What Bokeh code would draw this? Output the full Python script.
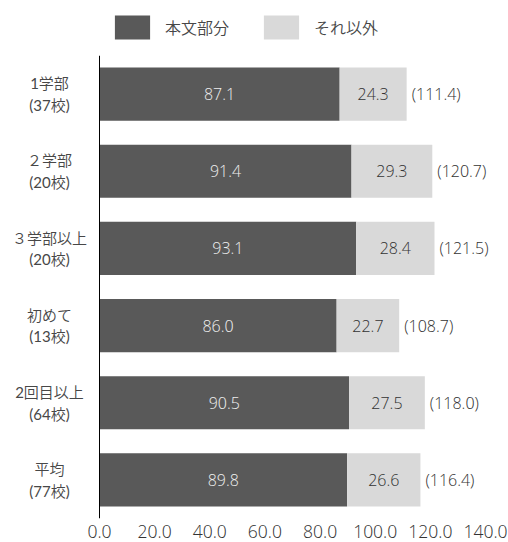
from bokeh.plotting import figure
from bokeh.layouts import column
from bokeh.models import (FactorRange, FixedTicker, Legend, LegendItem,
                          ColumnDataSource, CustomJSTickFormatter, Range1d, Span)
from bokeh.core.properties import value
from bokeh.embed import file_html
from bokeh.resources import INLINE

# Pages per school, split into main text and the rest
categories = ["1学部\n(37校)", "２学部\n(20校)", "３学部以上\n(20校)",
              "初めて\n(13校)", "2回目以上\n(64校)", "平均\n(77校)"]
main_text = [87.1, 91.4, 93.1, 86.0, 90.5, 89.8]
other = [24.3, 29.3, 28.4, 22.7, 27.5, 26.6]
totals = [111.4, 120.7, 121.5, 108.7, 118.0, 116.4]
x_ticks = [0, 20, 40, 60, 80, 100, 120, 140]
series_names = ["本文部分", "それ以外"]

NUM_FONT = "'Open Sans Light', 'Lato Light', Lato, 'Noto Sans CJK JP', sans-serif"
CAT_FONT = ("Lato, 'Noto Sans CJK JP DemiLight', 'Noto Sans CJK JP Light', "
            "'Noto Sans CJK JP', sans-serif")
DARK = "#595959"
LIGHT = "#d9d9d9"
TEXT = "#333333"
CAT_TEXT = "#474747"

W = 508
AXIS_X = 99          # pixel column of the value axis origin
PX_PER_UNIT = 386 / 140

src = ColumnDataSource(dict(
    cat=categories,
    zero=[0] * len(categories),
    main=main_text,
    other=other,
    total=totals,
    main_mid=[m / 2 for m in main_text],
    other_mid=[m + o / 2 for m, o in zip(main_text, other)],
    main_lbl=[f"{m:.1f}" for m in main_text],
    other_lbl=[f"{o:.1f}" for o in other],
    total_lbl=[f"({t:.1f})" for t in totals],
))

# ---- main bar chart ----
# the frame spans the full width so that the category labels can be drawn
# as glyphs left of the origin
p = figure(width=W, height=487, output_backend="svg", toolbar_location=None,
           y_range=FactorRange(factors=list(reversed(categories))),
           x_range=Range1d(-AXIS_X / PX_PER_UNIT, (W - AXIS_X) / PX_PER_UNIT),
           min_border_left=0, min_border_right=0, min_border_bottom=24,
           min_border_top=0)
p.y_range.range_padding = 0
p.outline_line_color = None
p.xgrid.visible = False
p.ygrid.visible = False
p.yaxis.visible = False

p.hbar(y="cat", left=0, right="main", height=0.69, source=src,
       fill_color=DARK, line_color=None)
p.hbar(y="cat", left="main", right="total", height=0.69, source=src,
       fill_color=LIGHT, line_color=None)

# vertical axis line at the origin
p.add_layout(Span(location=0, dimension="height", line_color="black",
                  line_width=1))

# category labels, centred two-line blocks left of the axis
p.text(x="zero", y="cat", text="cat", source=src, x_offset=-50,
       text_align="center", text_baseline="middle", text_color=CAT_TEXT,
       text_font=value(CAT_FONT), text_font_size="15px")

p.text(x="main_mid", y="cat", text="main_lbl", source=src,
       text_align="center", text_baseline="middle", text_color="#eeeeee",
       text_font=value(NUM_FONT), text_font_size="16px")
p.text(x="other_mid", y="cat", text="other_lbl", source=src,
       text_align="center", text_baseline="middle", text_color=TEXT,
       text_font=value(NUM_FONT), text_font_size="16px")
p.text(x="total", y="cat", text="total_lbl", source=src, x_offset=5,
       text_align="left", text_baseline="middle", text_color=TEXT,
       text_font=value(NUM_FONT), text_font_size="16px")

# x axis: labels only
p.xaxis.ticker = FixedTicker(ticks=x_ticks)
p.xaxis.formatter = CustomJSTickFormatter(code="return tick.toFixed(1);")
p.xaxis.axis_line_color = None
p.xaxis.major_tick_line_color = None
p.xaxis.minor_tick_line_color = None
p.xaxis.major_label_standoff = 0
p.xaxis.major_label_text_font = NUM_FONT
p.xaxis.major_label_text_font_size = "17.5px"
p.xaxis.major_label_text_color = TEXT

# ---- legend strip ----
lg = figure(width=W, height=55, output_backend="svg", toolbar_location=None,
            x_range=(0, 1), y_range=(0, 1),
            min_border_left=0, min_border_right=0, min_border_top=0,
            min_border_bottom=0)
lg.outline_line_color = None
lg.axis.visible = False
lg.grid.visible = False
# off-screen swatches that only feed the legend
r_main = lg.hbar(y=[5], left=[5], right=[6], height=1, fill_color=DARK,
                 line_color=None)
r_other = lg.hbar(y=[5], left=[5], right=[6], height=1, fill_color=LIGHT,
                  line_color=None)
legend = Legend(items=[LegendItem(label=series_names[0], renderers=[r_main]),
                       LegendItem(label=series_names[1], renderers=[r_other])],
                orientation="horizontal", location=(110, 13),
                glyph_width=44, glyph_height=30, label_standoff=11,
                spacing=30, padding=0, margin=0,
                border_line_color=None, background_fill_alpha=0,
                label_text_font=CAT_FONT, label_text_font_size="16px",
                label_text_color=CAT_TEXT)
lg.add_layout(legend, "center")

open("out.html", "w").write(file_html(column(lg, p, spacing=0), INLINE))
